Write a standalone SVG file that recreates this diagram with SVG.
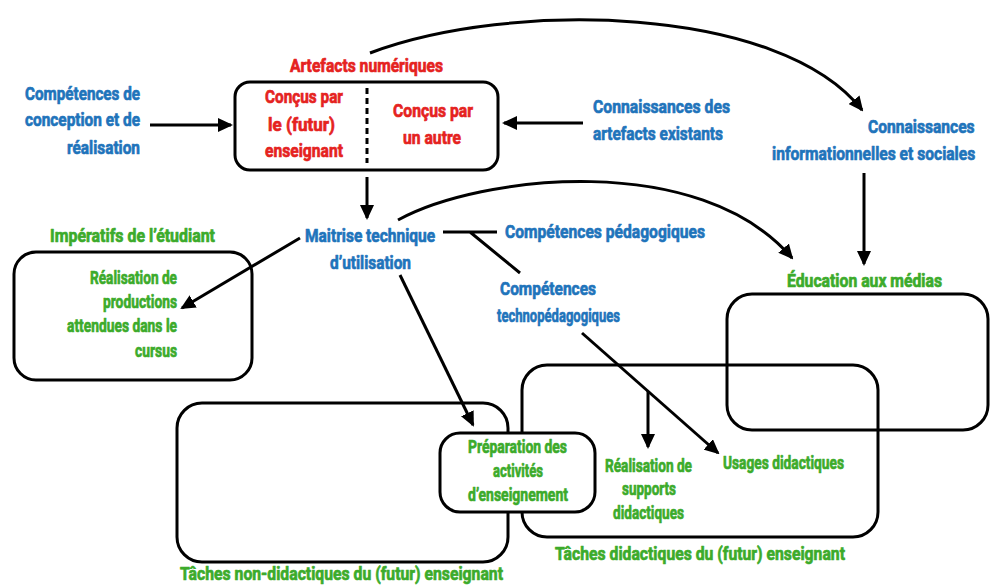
<svg xmlns="http://www.w3.org/2000/svg" width="990" height="585" viewBox="0 0 990 585">
<style>
text{font-family:Roboto,"Liberation Sans",sans-serif;font-weight:700;font-size:19px;stroke-width:0.7;stroke-linejoin:round}
.b{fill:#1F74BB;stroke:#1F74BB}
.r{fill:#E5231F;stroke:#E5231F}
.g{fill:#3CAB2B;stroke:#3CAB2B}
.box{fill:none;stroke:#000;stroke-width:3}
.wbox{fill:#fff;stroke:#000;stroke-width:3}
.ln{fill:none;stroke:#000;stroke-width:3}
.ar{fill:none;stroke:#000;stroke-width:3;marker-end:url(#ah)}
</style>
<defs>
<marker id="ah" markerUnits="userSpaceOnUse" markerWidth="15" markerHeight="14" refX="13" refY="7" orient="auto">
<path d="M0,0 L15,7 L0,14 z" fill="#000"/>
</marker>
</defs>
<rect width="990" height="585" fill="#fff"/>

<g id="media-box"><rect class="box" x="727" y="294" width="261" height="136" rx="25"/></g>
<g id="didactic-box"><rect class="box" x="522" y="365" width="356" height="172" rx="25"/>
<text class="g" x="555" y="560" textLength="290" lengthAdjust="spacingAndGlyphs">Tâches didactiques du (futur) enseignant</text></g>
<g id="nondidactic-box"><rect class="box" x="177" y="403" width="331" height="159" rx="25"/>
<text class="g" x="180" y="580" textLength="323" lengthAdjust="spacingAndGlyphs">Tâches non-didactiques du (futur) enseignant</text></g>

<g id="connectors">
<path class="ar" d="M370,53 C510,0 780,5 862,110"/>
<path class="ar" d="M398,220 C480,175 700,150 792,258"/>
<path class="ar" d="M150,125 L231,125"/>
<path class="ar" d="M583,123 L504,123"/>
<path class="ar" d="M367,177 L367,218"/>
<path class="ar" d="M864,173 L864,264"/>
<path class="ar" d="M300,238 L182,308"/>
<path class="ar" d="M400,275 L473,425"/>
<path class="ar" d="M582,333 L718,453"/>
<path class="ar" d="M648,391 L648,447"/>
<path class="ln" d="M443,232 L497,232 M470,232 L520,273"/>
</g>

<g id="artefacts">
<rect class="box" x="235" y="82" width="263" height="88" rx="15"/>
<line x1="367" y1="88" x2="367" y2="163" stroke="#000" stroke-width="3" stroke-dasharray="6 4"/>
<text class="r" x="290" y="72" textLength="153" lengthAdjust="spacingAndGlyphs">Artefacts numériques</text>
<text class="r" x="265" y="103" textLength="78" lengthAdjust="spacingAndGlyphs">Conçus par</text>
<text class="r" x="268" y="131" textLength="67" lengthAdjust="spacingAndGlyphs">le (futur)</text>
<text class="r" x="265" y="157" textLength="78" lengthAdjust="spacingAndGlyphs">enseignant</text>
<text class="r" x="393" y="117" textLength="80" lengthAdjust="spacingAndGlyphs">Conçus par</text>
<text class="r" x="403" y="144" textLength="58" lengthAdjust="spacingAndGlyphs">un autre</text>
</g>

<g id="competences-conception">
<text class="b" x="25" y="100" textLength="115" lengthAdjust="spacingAndGlyphs">Compétences de</text>
<text class="b" x="25" y="126" textLength="115" lengthAdjust="spacingAndGlyphs">conception et de</text>
<text class="b" x="67" y="154" textLength="73" lengthAdjust="spacingAndGlyphs">réalisation</text>
</g>

<g id="connaissances-artefacts">
<text class="b" x="593" y="113" textLength="137" lengthAdjust="spacingAndGlyphs">Connaissances des</text>
<text class="b" x="593" y="140" textLength="130" lengthAdjust="spacingAndGlyphs">artefacts existants</text>
</g>

<g id="connaissances-info">
<text class="b" transform="translate(868,133) scale(0.82,1)" x="0" y="0" textLength="130" lengthAdjust="spacingAndGlyphs">Connaissances</text>
<text class="b" transform="translate(772,160) scale(0.8,1)" x="0" y="0" textLength="254" lengthAdjust="spacingAndGlyphs">informationnelles et sociales</text>
</g>

<g id="maitrise">
<text class="b" x="305" y="242" textLength="130" lengthAdjust="spacingAndGlyphs">Maitrise technique</text>
<text class="b" x="330" y="269" textLength="81" lengthAdjust="spacingAndGlyphs">d’utilisation</text>
</g>

<g id="competences-pedagogiques">
<text class="b" x="505" y="238" textLength="200" lengthAdjust="spacingAndGlyphs">Compétences pédagogiques</text>
</g>

<g id="competences-techno">
<text class="b" x="500" y="295" textLength="96" lengthAdjust="spacingAndGlyphs">Compétences</text>
<text class="b" x="497" y="322" textLength="123" lengthAdjust="spacingAndGlyphs">technopédagogiques</text>
</g>

<g id="education-medias">
<text class="g" x="787" y="287" textLength="155" lengthAdjust="spacingAndGlyphs">Éducation aux médias</text>
</g>

<g id="imperatifs">
<text class="g" x="50" y="242" textLength="165" lengthAdjust="spacingAndGlyphs">Impératifs de l’étudiant</text>
<rect class="box" x="14" y="252" width="238" height="128" rx="22"/>
<text class="g" x="90" y="284" textLength="87" lengthAdjust="spacingAndGlyphs">Réalisation de</text>
<text class="g" x="103" y="308" textLength="74" lengthAdjust="spacingAndGlyphs">productions</text>
<text class="g" x="67" y="332" textLength="110" lengthAdjust="spacingAndGlyphs">attendues dans le</text>
<text class="g" x="135" y="357" textLength="42" lengthAdjust="spacingAndGlyphs">cursus</text>
</g>

<g id="preparation">
<rect class="wbox" x="440" y="433" width="155" height="79" rx="20"/>
<text class="g" x="468" y="453" textLength="99" lengthAdjust="spacingAndGlyphs">Préparation des</text>
<text class="g" x="493" y="477" textLength="50" lengthAdjust="spacingAndGlyphs">activités</text>
<text class="g" x="468" y="501" textLength="100" lengthAdjust="spacingAndGlyphs">d’enseignement</text>
</g>

<g id="supports">
<text class="g" x="605" y="472" textLength="87" lengthAdjust="spacingAndGlyphs">Réalisation de</text>
<text class="g" x="622" y="495" textLength="54" lengthAdjust="spacingAndGlyphs">supports</text>
<text class="g" x="613" y="519" textLength="71" lengthAdjust="spacingAndGlyphs">didactiques</text>
</g>

<g id="usages">
<text class="g" x="723" y="469" textLength="121" lengthAdjust="spacingAndGlyphs">Usages didactiques</text>
</g>
</svg>
